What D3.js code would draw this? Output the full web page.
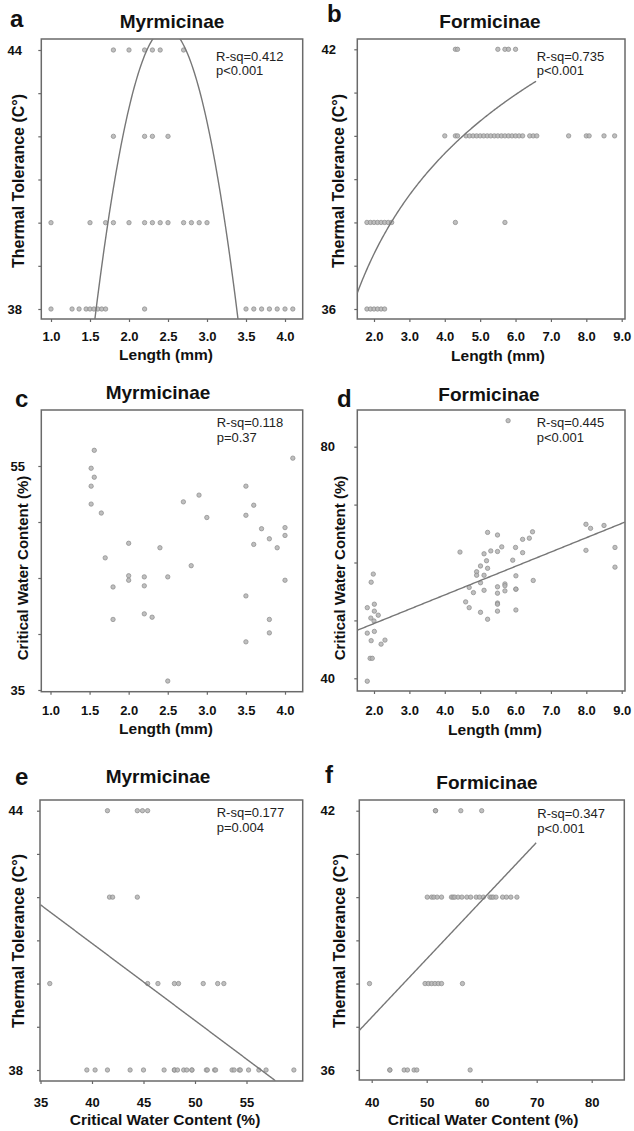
<!DOCTYPE html>
<html>
<head>
<meta charset="utf-8">
<script src="https://cdn.jsdelivr.net/npm/d3@7"></script>
<style>
  html, body { margin: 0; padding: 0; background: #fff; }
  svg { display: block; }
</style>
</head>
<body>
<script>
// ---------------- DATA ----------------
// Panel a: Myrmicinae, length (mm) vs thermal tolerance
const aLen44 = [1.8, 2.0, 2.2, 2.3, 2.4, 2.7];
const aLen42 = [1.8, 2.2, 2.3, 2.5];
const aLen40 = [1.0, 1.5, 1.7, 1.8, 2.0, 2.2, 2.3, 2.4, 2.5, 2.7, 2.8, 2.9, 3.0];
const aLen38 = [1.0, 1.27, 1.36, 1.45, 1.5, 1.55, 1.6, 1.65, 1.7, 2.2, 3.5, 3.6, 3.7, 3.8, 3.9, 4.0, 4.1];
const aFit = [2.48, 44.5, 8.0];          // vertex x, vertex y, curvature
const aStats = ["R-sq=0.412", "p<0.001"];

// Panel b: Formicinae, length (mm) vs thermal tolerance
const bLen42 = [4.3, 4.36, 5.5, 5.7, 5.8, 6.0];
const bLen40 = [4.0, 4.3, 4.36, 4.6, 4.7, 4.8, 4.9, 5.0, 5.1, 5.2, 5.3, 5.4, 5.5, 5.6, 5.7, 5.8, 5.9, 6.0, 6.1, 6.2, 6.4, 6.5, 6.6, 7.5, 8.0, 8.08, 8.5, 8.8];
const bLen38 = [1.8, 1.9, 2.0, 2.1, 2.2, 2.3, 2.4, 2.5, 4.3, 5.7];
const bLen36 = [1.8, 1.9, 2.0, 2.1, 2.2, 2.3];
const bFit = [34.95, 3.35, 1.53, 6.58];  // a + b*ln(x), x from, x to
const bStats = ["R-sq=0.735", "p<0.001"];

// Panel c: Myrmicinae, length (mm) vs critical water content (%)
const cLen = [1.56, 1.52, 1.56, 1.52, 1.52, 1.65, 4.1, 3.5, 2.9, 2.7, 3.6, 3.0, 3.5, 3.7, 4.0, 4.0, 3.8, 2.0, 2.4, 3.6, 3.9, 1.7, 2.8, 2.0, 2.0, 2.2, 2.5, 4.0, 1.8, 2.2, 3.5, 2.2, 2.3, 1.8, 3.8, 3.8, 3.5, 2.5];
const cCwc = [56.4, 54.8, 54.0, 53.2, 51.6, 50.8, 55.7, 53.2, 52.4, 51.8, 51.5, 50.4, 50.6, 49.4, 49.5, 48.8, 48.5, 48.1, 47.7, 48.0, 47.7, 46.8, 46.1, 45.2, 44.8, 45.1, 45.1, 44.8, 44.2, 44.3, 43.4, 41.8, 41.5, 41.3, 41.3, 40.1, 39.3, 35.8];
const cStats = ["R-sq=0.118", "p=0.37"];

// Panel d: Formicinae, length (mm) vs critical water content (%)
const dLen = [5.79, 7.99, 8.12, 8.5, 8.81, 7.99, 5.21, 5.49, 6.48, 6.39, 6.2, 5.61, 6.0, 4.43, 5.11, 5.3, 5.49, 6.2,
              1.98, 1.92, 1.81, 2.01, 2.01, 2.12, 1.91, 2.0, 1.81, 2.01, 1.92, 2.31, 2.2, 1.89, 1.95, 1.81,
              5.18, 5.92, 5.01, 4.9, 4.9, 5.11, 5.21, 6.01, 6.5, 5.01, 4.69, 4.81, 5.11, 5.49, 5.7, 5.7, 5.7, 5.49, 6.01, 6.01,
              4.59, 4.69, 5.49, 5.49, 5.01, 5.49, 6.01, 5.21, 8.81];
const dCwc = [84.5, 66.6, 65.9, 66.4, 62.6, 62.1, 65.2, 64.75, 65.3, 64.2, 64.0, 62.7, 62.6, 61.8, 61.5, 62.0, 61.9, 61.7,
              58.0, 56.6, 52.2, 52.8, 51.6, 50.9, 50.4, 49.9, 47.8, 48.1, 46.5, 46.6, 45.9, 43.45, 43.45, 39.5,
              60.3, 60.4, 59.4, 58.4, 57.8, 57.8, 59.0, 57.7, 56.9, 56.5, 55.7, 54.8, 55.2, 55.8, 56.3, 56.0, 55.1, 54.7, 55.4, 55.4,
              53.2, 52.2, 53.0, 52.8, 51.4, 51.6, 51.8, 50.2, 59.2];
const dFit = [44.52, 2.47, 1.53, 9.09];  // intercept, slope, x from, x to
const dStats = ["R-sq=0.445", "p<0.001"];

// Panel e: Myrmicinae, critical water content (%) vs thermal tolerance
const eCwc44 = [41.5, 44.4, 44.9, 45.4];
const eCwc42 = [41.7, 42.0, 44.4];
const eCwc40 = [35.9, 45.4, 46.4, 48.0, 48.4, 50.8, 52.2, 52.8];
const eCwc38 = [39.5, 40.3, 41.5, 43.7, 45.0, 47.0, 48.0, 48.0, 48.3, 48.9, 49.2, 49.7, 49.7, 51.1, 51.2, 51.9, 52.0, 53.6, 53.8, 54.3, 54.4, 55.2, 56.2, 56.9, 59.6];
const eFit = [48.07, -0.1785, 35, 57.8];
const eStats = ["R-sq=0.177", "p=0.004"];

// Panel f: Formicinae, critical water content (%) vs thermal tolerance
const fCwc42 = [51.6, 51.6, 56.2, 60.0];
const fCwc40 = [50.1, 50.9, 51.3, 51.9, 52.7, 54.5, 54.8, 55.1, 55.7, 56.4, 57.3, 58.0, 59.0, 59.6, 60.3, 61.5, 61.8, 62.1, 62.6, 63.8, 64.5, 65.3, 66.4];
const fCwc38 = [39.6, 49.7, 50.3, 50.9, 51.5, 52.1, 52.7, 56.5];
const fCwc36 = [43.3, 43.3, 45.9, 46.5, 47.7, 48.2, 57.9];
const fFit = [31.82, 0.135, 37.75, 69.9];
const fStats = ["R-sq=0.347", "p<0.001"];

// Tick values / labels
const lenTicksM = [1.0, 1.5, 2.0, 2.5, 3.0, 3.5, 4.0];
const lenTicksF = [2, 3, 4, 5, 6, 7, 8, 9];
const tolTicksM = [38, 39, 40, 41, 42, 43, 44];
const tolTicksF = [36, 37, 38, 39, 40, 41, 42];
const cwcTicksM = [35, 40, 45, 50, 55];
const cwcTicksMy = [35, 40, 45, 50, 55];
const cwcTicksF = [40, 50, 60, 70, 80];
const cwcTicksFy = [40, 50, 60, 70, 80];

const titles = ["Myrmicinae", "Formicinae", "Myrmicinae", "Formicinae", "Myrmicinae", "Formicinae"];
const letters = ["a", "b", "c", "d", "e", "f"];
const tolLabel = "Thermal Tolerance (C°)";
const cwcLabel = "Critical Water Content (%)";
const lenLabel = "Length (mm)";

// -------------- helpers --------------
const lvl = (xs, y) => xs.map(x => [x, y]);
const zip = (xs, ys) => xs.map((x, i) => [x, ys[i]]);

const W = 634, H = 1131;
const FONT = "'Liberation Sans', Arial, Helvetica, sans-serif";
const svg = d3.select("body").append("svg").attr("width", W).attr("height", H)
  .style("font-family", FONT);

const panels = [
  { // a
    box: [41.3, 302.7, 39, 319],
    xd: [1, 4], xr: [51, 285], yd: [38, 44], yr: [309, 50],
    xt: lenTicksM, xfmt: d3.format(".1f"), yt: tolTicksM, ylab: [38, 44],
    pts: [].concat(lvl(aLen44, 44), lvl(aLen42, 42), lvl(aLen40, 40), lvl(aLen38, 38)),
    fit: x => aFit[1] - aFit[2] * (x - aFit[0]) * (x - aFit[0]), fitRange: null,
    stats: aStats, statPos: [216, 61, 75],
    title: [172, 28], letter: [10, 27], xTitle: [lenLabel, 166, 360], yTitle: [tolLabel, 18, 181, 16],
    xBase: 341, yRight: 22
  },
  { // b
    box: [357.3, 625, 39, 319],
    xd: [2, 9], xr: [374, 621.7], yd: [36, 42], yr: [309, 49.3],
    xt: lenTicksF, xfmt: d3.format(".1f"), yt: tolTicksF, ylab: [36, 42],
    pts: [].concat(lvl(bLen42, 42), lvl(bLen40, 40), lvl(bLen38, 38), lvl(bLen36, 36)),
    fit: x => bFit[0] + bFit[1] * Math.log(x), fitRange: [bFit[2], bFit[3]],
    stats: bStats, statPos: [536.7, 61, 75],
    title: [490, 28], letter: [327, 22], xTitle: [lenLabel, 498, 361], yTitle: [tolLabel, 338, 181, 16],
    xBase: 341, yRight: 336
  },
  { // c
    box: [41.3, 302.7, 410, 691.7],
    xd: [1, 4], xr: [50.5, 285], yd: [35, 55], yr: [690, 466],
    xt: lenTicksM, xfmt: d3.format(".1f"), yt: cwcTicksMy, ylab: [35, 55],
    pts: zip(cLen, cCwc),
    fit: null,
    stats: cStats, statPos: [216.7, 427, 442],
    title: [158, 399], letter: [15, 407], xTitle: [lenLabel, 166, 734], yTitle: [cwcLabel, 23, 568, 15],
    xBase: 715, yRight: 25
  },
  { // d
    box: [357.3, 625, 410, 691],
    xd: [2, 9], xr: [374, 621.7], yd: [40, 80], yr: [678.3, 446.7],
    xt: lenTicksF, xfmt: d3.format(".1f"), yt: cwcTicksFy, ylab: [40, 80],
    pts: zip(dLen, dCwc),
    fit: x => dFit[0] + dFit[1] * x, fitRange: [dFit[2], dFit[3]],
    stats: dStats, statPos: [536.7, 427, 442],
    title: [489, 401], letter: [337, 407], xTitle: [lenLabel, 495, 735], yTitle: [cwcLabel, 340, 568, 15],
    xBase: 715, yRight: 335
  },
  { // e
    box: [40, 302.7, 800, 1081],
    xd: [35, 55], xr: [40.5, 246.5], yd: [38, 44], yr: [1070, 810.7],
    xt: cwcTicksM, xfmt: d3.format("d"), yt: tolTicksM, ylab: [38, 44],
    pts: [].concat(lvl(eCwc44, 44), lvl(eCwc42, 42), lvl(eCwc40, 40), lvl(eCwc38, 38)),
    fit: x => eFit[0] + eFit[1] * x, fitRange: [eFit[2], eFit[3]],
    stats: eStats, statPos: [216.7, 817, 832],
    title: [158, 783], letter: [15, 785], xTitle: [cwcLabel, 165, 1125], yTitle: [tolLabel, 18, 941, 16],
    xBase: 1107, yRight: 23
  },
  { // f
    box: [359.3, 624.3, 800, 1080],
    xd: [40, 80], xr: [371.7, 591.7], yd: [36, 42], yr: [1070, 810.7],
    xt: cwcTicksF, xfmt: d3.format("d"), yt: tolTicksF, ylab: [36, 42],
    pts: [].concat(lvl(fCwc42, 42), lvl(fCwc40, 40), lvl(fCwc38, 38), lvl(fCwc36, 36)),
    fit: x => fFit[0] + fFit[1] * x, fitRange: [fFit[2], fFit[3]],
    stats: fStats, statPos: [537.3, 818, 833],
    title: [487, 789], letter: [325, 783], xTitle: [cwcLabel, 483, 1125], yTitle: [tolLabel, 339, 941, 16],
    xBase: 1107, yRight: 335
  }
];

const TICK = 3;
panels.forEach((p, i) => {
  const [L, R, T, B] = p.box;
  const x = d3.scaleLinear().domain(p.xd).range(p.xr);
  const y = d3.scaleLinear().domain(p.yd).range(p.yr);
  const g = svg.append("g");

  const clipId = "clip" + i;
  svg.append("clipPath").attr("id", clipId)
    .append("rect").attr("x", L).attr("y", T).attr("width", R - L).attr("height", B - T);

  // x axis
  const xfs = 13;
  const xa = g.append("g").attr("transform", `translate(0,${B})`)
    .call(d3.axisBottom(x).tickValues(p.xt).tickFormat(p.xfmt).tickSize(TICK)
      .tickPadding(p.xBase - B - TICK - 0.71 * xfs));
  xa.select(".domain").remove();
  xa.selectAll("line").attr("stroke", "#666").attr("stroke-width", 1.2);
  xa.selectAll("text").attr("font-size", xfs).attr("font-weight", "bold").attr("fill", "#111")
    .style("font-family", FONT);

  // y axis
  const yfs = 13;
  const ya = g.append("g").attr("transform", `translate(${L},0)`)
    .call(d3.axisLeft(y).tickValues(p.yt).tickSize(TICK)
      .tickFormat(d => p.ylab.includes(d) ? String(d) : "")
      .tickPadding(L - p.yRight - TICK));
  ya.select(".domain").remove();
  ya.selectAll("line").attr("stroke", "#666").attr("stroke-width", 1.2);
  ya.selectAll("text").attr("font-size", yfs).attr("font-weight", "bold").attr("fill", "#111")
    .style("font-family", FONT);

  // box
  g.append("rect").attr("x", L).attr("y", T).attr("width", R - L).attr("height", B - T)
    .attr("fill", "none").attr("stroke", "#6a6a6a").attr("stroke-width", 1.5);

  // points
  g.append("g").attr("clip-path", `url(#${clipId})`)
    .selectAll("circle").data(p.pts).join("circle")
    .attr("cx", d => x(d[0])).attr("cy", d => y(d[1])).attr("r", 2.2)
    .attr("fill", "#b4b4b4").attr("fill-opacity", 0.85)
    .attr("stroke", "#8a8a8a").attr("stroke-width", 0.7);

  // fit line
  if (p.fit) {
    const r = p.fitRange || [x.invert(L), x.invert(R)];
    const xs = d3.range(0, 201).map(k => r[0] + (r[1] - r[0]) * k / 200);
    g.append("path").attr("clip-path", `url(#${clipId})`)
      .datum(xs)
      .attr("d", d3.line().x(v => x(v)).y(v => y(p.fit(v))))
      .attr("fill", "none").attr("stroke", "#777").attr("stroke-width", 1.4);
  }

  // stats text
  g.append("text").attr("x", p.statPos[0]).attr("y", p.statPos[1])
    .attr("font-size", 13).attr("fill", "#222").text(p.stats[0]);
  g.append("text").attr("x", p.statPos[0]).attr("y", p.statPos[2])
    .attr("font-size", 13).attr("fill", "#222").text(p.stats[1]);

  // title
  g.append("text").attr("x", p.title[0]).attr("y", p.title[1]).attr("text-anchor", "middle")
    .attr("font-size", 19).attr("font-weight", "bold").attr("fill", "#111").text(titles[i]);
  // letter
  g.append("text").attr("x", p.letter[0]).attr("y", p.letter[1])
    .attr("font-size", 24).attr("font-weight", "bold").attr("fill", "#111").text(letters[i]);
  // x title
  g.append("text").attr("x", p.xTitle[1]).attr("y", p.xTitle[2]).attr("text-anchor", "middle")
    .attr("font-size", 15.5).attr("font-weight", "bold").attr("fill", "#111").text(p.xTitle[0]);
  // y title
  g.append("text").attr("transform", `translate(${p.yTitle[1]},${p.yTitle[2]}) rotate(-90)`)
    .attr("text-anchor", "middle").attr("dy", "0.35em")
    .attr("font-size", p.yTitle[3]).attr("font-weight", "bold").attr("fill", "#111").text(p.yTitle[0]);
});
</script>
</body>
</html>
